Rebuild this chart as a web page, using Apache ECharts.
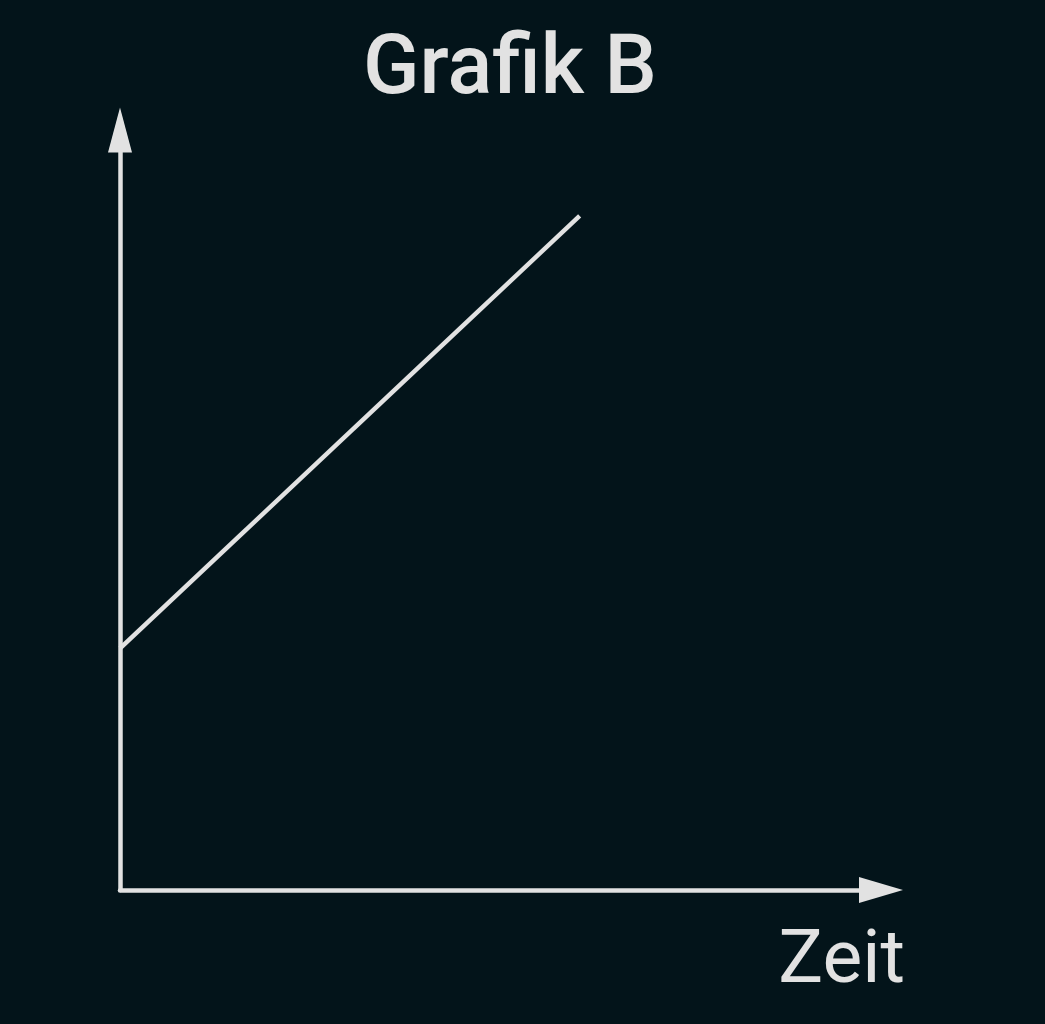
<!DOCTYPE html>
<html>
<head>
<meta charset="utf-8">
<style>
html,body{margin:0;padding:0;background:#03141a;}
#c{width:1045px;height:1024px;}
</style>
<script src="https://cdn.jsdelivr.net/npm/echarts@6/dist/echarts.min.js"></script>
</head>
<body>
<div id="c"></div>
<script>
var titleText = 'Grafik B';
var xAxisName = 'Zeit';
var timeValues = [0, 60.4];
var lineValues = [31.8, 88.7];

var chart = echarts.init(document.getElementById('c'));
var fg = '#e2e2e2';
chart.setOption({
  backgroundColor: '#03141a',
  animation: false,
  title: {
    text: titleText,
    left: 358,
    top: 26,
    textStyle: {color: fg, fontFamily: 'Roboto', fontWeight: 500, fontSize: 83}
  },
  grid: {left: 120, right: 164, top: 130, bottom: 134},
  xAxis: {
    type: 'value', min: 0, max: 100,
    name: xAxisName,
    nameLocation: 'end',
    nameGap: 24,
    nameTextStyle: {color: fg, fontFamily: 'Roboto', fontSize: 75, align: 'right', verticalAlign: 'top', padding: [36, 0, 0, 0]},
    axisLine: {show: true, symbol: ['none', 'triangle'], symbolSize: [26, 44], lineStyle: {color: fg, width: 4.5}},
    axisTick: {show: false}, axisLabel: {show: false}, splitLine: {show: false}
  },
  yAxis: {
    type: 'value', min: 0, max: 100,
    axisLine: {show: true, symbol: ['none', 'triangle'], symbolSize: [24, 45], lineStyle: {color: fg, width: 4.5}},
    axisTick: {show: false}, axisLabel: {show: false}, splitLine: {show: false}
  },
  series: [{
    type: 'line',
    data: timeValues.map(function(t, i){ return [t, lineValues[i]]; }),
    showSymbol: false,
    lineStyle: {color: fg, width: 4.5}
  }]
});
</script>
</body>
</html>
